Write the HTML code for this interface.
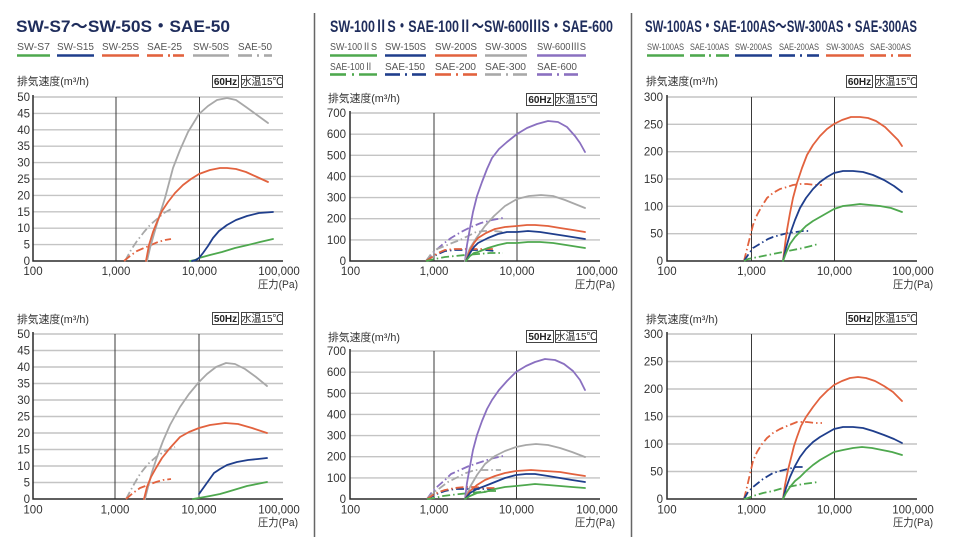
<!DOCTYPE html>
<html><head><meta charset="utf-8"><style>
html,body{margin:0;padding:0;background:#fff;width:964px;height:537px;overflow:hidden}
svg{display:block}
text{font-family:"Liberation Sans","Noto Sans CJK JP",sans-serif}
.t{font-size:17px;font-weight:bold;fill:#1f2d5c}
.lg{font-size:10px;fill:#555}
.lg3{font-size:9px;fill:#555}
.yl{font-size:11.5px;fill:#333;text-anchor:end}
.xl{font-size:11.5px;fill:#333;text-anchor:middle}
.un{font-size:11px;fill:#333}
.hz{font-size:10px;font-weight:bold;fill:#222;text-anchor:middle}
.wt{font-size:10px;fill:#222;text-anchor:middle}
.g{stroke:#c4c4c4;stroke-width:1.4;fill:none}
.v{stroke:#3a3a3a;stroke-width:1;fill:none}
.ax{stroke:#2a2a2a;stroke-width:1.5;fill:none}
polyline{fill:none;stroke-width:1.8;stroke-linejoin:round;stroke-linecap:round}
.dd{stroke-dasharray:8 3 1.5 3;stroke-linecap:butt}
.cg{stroke:#4ea84e}.cb{stroke:#1f3e8c}.co{stroke:#e2623e}.cy{stroke:#a8a8a8}.cp{stroke:#8a70c0}
.l{stroke-width:2.6;fill:none}
</style></head><body>
<svg width="964" height="537" viewBox="0 0 964 537" xmlns="http://www.w3.org/2000/svg">
<!-- dividers -->
<line x1="314.5" y1="13" x2="314.5" y2="537" stroke="#666" stroke-width="1.5"/>
<line x1="631.5" y1="13" x2="631.5" y2="537" stroke="#666" stroke-width="1.5"/>

<!-- titles -->
<text class="t" x="16" y="32" textLength="214" lengthAdjust="spacingAndGlyphs">SW-S7～SW-50S・SAE-50</text>
<text class="t" x="330" y="32" textLength="283" lengthAdjust="spacingAndGlyphs">SW-100ⅡS・SAE-100Ⅱ～SW-600ⅢS・SAE-600</text>
<text class="t" x="645" y="32" textLength="272" lengthAdjust="spacingAndGlyphs">SW-100AS・SAE-100AS～SW-300AS・SAE-300AS</text>

<!-- legend col1 -->
<text class="lg" x="17" y="50" textLength="33" lengthAdjust="spacingAndGlyphs">SW-S7</text>
<line class="l cg" x1="17" y1="55.5" x2="50" y2="55.5"/>
<text class="lg" x="57" y="50" textLength="37" lengthAdjust="spacingAndGlyphs">SW-S15</text>
<line class="l cb" x1="57" y1="55.5" x2="94" y2="55.5"/>
<text class="lg" x="102" y="50" textLength="37" lengthAdjust="spacingAndGlyphs">SW-25S</text>
<line class="l co" x1="102" y1="55.5" x2="139" y2="55.5"/>
<text class="lg" x="147" y="50" textLength="35" lengthAdjust="spacingAndGlyphs">SAE-25</text>
<line class="l co" x1="147" y1="55.5" x2="163" y2="55.5"/><line class="l co" x1="168" y1="55.5" x2="170" y2="55.5"/><line class="l co" x1="173" y1="55.5" x2="184" y2="55.5"/>
<text class="lg" x="193" y="50" textLength="36" lengthAdjust="spacingAndGlyphs">SW-50S</text>
<line class="l cy" x1="193" y1="55.5" x2="229" y2="55.5"/>
<text class="lg" x="238" y="50" textLength="34" lengthAdjust="spacingAndGlyphs">SAE-50</text>
<line class="l cy" x1="238" y1="55.5" x2="252" y2="55.5"/><line class="l cy" x1="257" y1="55.5" x2="259" y2="55.5"/><line class="l cy" x1="264" y1="55.5" x2="272" y2="55.5"/>

<!-- legend col2 -->
<text class="lg" x="330" y="50" textLength="47" lengthAdjust="spacingAndGlyphs">SW-100ⅡS</text>
<line class="l cg" x1="330" y1="55.5" x2="377" y2="55.5"/>
<text class="lg" x="385" y="50" textLength="41" lengthAdjust="spacingAndGlyphs">SW-150S</text>
<line class="l cb" x1="385" y1="55.5" x2="426" y2="55.5"/>
<text class="lg" x="435" y="50" textLength="42" lengthAdjust="spacingAndGlyphs">SW-200S</text>
<line class="l co" x1="435" y1="55.5" x2="477" y2="55.5"/>
<text class="lg" x="485" y="50" textLength="42" lengthAdjust="spacingAndGlyphs">SW-300S</text>
<line class="l cy" x1="485" y1="55.5" x2="527" y2="55.5"/>
<text class="lg" x="537" y="50" textLength="49" lengthAdjust="spacingAndGlyphs">SW-600ⅢS</text>
<line class="l cp" x1="537" y1="55.5" x2="586" y2="55.5"/>

<text class="lg" x="330" y="70" textLength="43" lengthAdjust="spacingAndGlyphs">SAE-100Ⅱ</text>
<line class="l cg" x1="330" y1="74.5" x2="346" y2="74.5"/><line class="l cg" x1="352" y1="74.5" x2="354" y2="74.5"/><line class="l cg" x1="359" y1="74.5" x2="377" y2="74.5"/>
<text class="lg" x="385" y="70" textLength="40" lengthAdjust="spacingAndGlyphs">SAE-150</text>
<line class="l cb" x1="385" y1="74.5" x2="400" y2="74.5"/><line class="l cb" x1="405" y1="74.5" x2="407" y2="74.5"/><line class="l cb" x1="412" y1="74.5" x2="426" y2="74.5"/>
<text class="lg" x="435" y="70" textLength="41" lengthAdjust="spacingAndGlyphs">SAE-200</text>
<line class="l co" x1="435" y1="74.5" x2="451" y2="74.5"/><line class="l co" x1="456" y1="74.5" x2="458" y2="74.5"/><line class="l co" x1="463" y1="74.5" x2="477" y2="74.5"/>
<text class="lg" x="485" y="70" textLength="41" lengthAdjust="spacingAndGlyphs">SAE-300</text>
<line class="l cy" x1="485" y1="74.5" x2="501" y2="74.5"/><line class="l cy" x1="506" y1="74.5" x2="508" y2="74.5"/><line class="l cy" x1="513" y1="74.5" x2="527" y2="74.5"/>
<text class="lg" x="537" y="70" textLength="40" lengthAdjust="spacingAndGlyphs">SAE-600</text>
<line class="l cp" x1="537" y1="74.5" x2="552" y2="74.5"/><line class="l cp" x1="557" y1="74.5" x2="559" y2="74.5"/><line class="l cp" x1="564" y1="74.5" x2="578" y2="74.5"/>

<!-- legend col3 -->
<text class="lg3" x="647" y="50" textLength="37" lengthAdjust="spacingAndGlyphs">SW-100AS</text>
<line class="l cg" x1="647" y1="55.5" x2="684" y2="55.5"/>
<text class="lg3" x="690" y="50" textLength="39" lengthAdjust="spacingAndGlyphs">SAE-100AS</text>
<line class="l cg" x1="690" y1="55.5" x2="705" y2="55.5"/><line class="l cg" x1="709" y1="55.5" x2="711" y2="55.5"/><line class="l cg" x1="716" y1="55.5" x2="729" y2="55.5"/>
<text class="lg3" x="735" y="50" textLength="37" lengthAdjust="spacingAndGlyphs">SW-200AS</text>
<line class="l cb" x1="735" y1="55.5" x2="772" y2="55.5"/>
<text class="lg3" x="779" y="50" textLength="40" lengthAdjust="spacingAndGlyphs">SAE-200AS</text>
<line class="l cb" x1="779" y1="55.5" x2="795" y2="55.5"/><line class="l cb" x1="800" y1="55.5" x2="802" y2="55.5"/><line class="l cb" x1="807" y1="55.5" x2="819" y2="55.5"/>
<text class="lg3" x="826" y="50" textLength="38" lengthAdjust="spacingAndGlyphs">SW-300AS</text>
<line class="l co" x1="826" y1="55.5" x2="864" y2="55.5"/>
<text class="lg3" x="870" y="50" textLength="41" lengthAdjust="spacingAndGlyphs">SAE-300AS</text>
<line class="l co" x1="870" y1="55.5" x2="886" y2="55.5"/><line class="l co" x1="891" y1="55.5" x2="893" y2="55.5"/><line class="l co" x1="898" y1="55.5" x2="911" y2="55.5"/>

<!-- ================= COL1 TOP ================= -->
<text class="un" x="17" y="85" textLength="72" lengthAdjust="spacingAndGlyphs">排気速度(m³/h)</text>
<rect x="212.5" y="75.5" width="26" height="12" fill="#fff" stroke="#444"/><text class="hz" x="225.5" y="85">60Hz</text>
<rect x="241.5" y="75.5" width="41" height="12" fill="#fff" stroke="#444"/><text class="wt" x="262" y="85">水温15℃</text>
<g>
<path class="g" d="M33 97H283M33 113.4H283M33 129.8H283M33 146.2H283M33 162.6H283M33 179H283M33 195.4H283M33 211.8H283M33 228.2H283M33 244.6H283"/>
<path class="v" d="M116 97V261" stroke-width="1.8" stroke="#555"/><path class="v" d="M199.5 97V261"/>
<path class="ax" d="M33 95V261H283"/>
<text class="yl" x="30" y="101">50</text><text class="yl" x="30" y="117.4">45</text><text class="yl" x="30" y="133.8">40</text><text class="yl" x="30" y="150.2">35</text><text class="yl" x="30" y="166.6">30</text><text class="yl" x="30" y="183">25</text><text class="yl" x="30" y="199.4">20</text><text class="yl" x="30" y="215.8">15</text><text class="yl" x="30" y="232.2">10</text><text class="yl" x="30" y="248.6">5</text><text class="yl" x="30" y="265">0</text>
<text class="xl" x="33" y="275">100</text><text class="xl" x="116" y="275">1,000</text><text class="xl" x="199.5" y="275">10,000</text><text class="xl" x="279" y="275">100,000</text>
<text class="un" x="258" y="288" textLength="40" lengthAdjust="spacingAndGlyphs">圧力(Pa)</text>
<polyline class="cy dd" points="125,261 131,250 137,241 144,232 150,225 157,219 164,213 173,208"/>
<polyline class="co dd" points="124,261 130,256 137,251 144,248 151,245 158,242 165,240 171,239"/>
<polyline class="cy" points="147,261 150,248 154,234 159,217 165,198 173,168 180,150 188,132 199,114 208,106 217,100 227,98 236,100 246,107 257,115 268,123"/>
<polyline class="co" points="146,261 149,245 153,232 157,222 162,211 168,202 175,193 183,185 191,179 199,174 210,170 220,168 227,168 236,169 246,172 257,177 268,182"/>
<polyline class="cg" points="190,261 195,260 199,258 210,255 222,252 235,248 248,245 260,242 273,239"/>
<polyline class="cb" points="192,261 196,260 199,258 203,253 208,246 213,238 219,231 227,225 236,220 247,216 259,213 273,212"/>
</g>

<!-- ================= COL1 BOTTOM ================= -->
<text class="un" x="17" y="323" textLength="72" lengthAdjust="spacingAndGlyphs">排気速度(m³/h)</text>
<rect x="212.5" y="312.5" width="26" height="12" fill="#fff" stroke="#444"/><text class="hz" x="225.5" y="322">50Hz</text>
<rect x="241.5" y="312.5" width="41" height="12" fill="#fff" stroke="#444"/><text class="wt" x="262" y="322">水温15℃</text>
<g>
<path class="g" d="M33 334H283M33 350.5H283M33 367H283M33 383.5H283M33 400H283M33 416.5H283M33 433H283M33 449.5H283M33 466H283M33 482.5H283"/>
<path class="v" d="M115 334V499"/><path class="v" d="M199 334V499"/>
<path class="ax" d="M33 332V499H283"/>
<text class="yl" x="30" y="338">50</text><text class="yl" x="30" y="354.5">45</text><text class="yl" x="30" y="371">40</text><text class="yl" x="30" y="387.5">35</text><text class="yl" x="30" y="404">30</text><text class="yl" x="30" y="420.5">25</text><text class="yl" x="30" y="437">20</text><text class="yl" x="30" y="453.5">15</text><text class="yl" x="30" y="470">10</text><text class="yl" x="30" y="486.5">5</text><text class="yl" x="30" y="503">0</text>
<text class="xl" x="33" y="513.5">100</text><text class="xl" x="115" y="513.5">1,000</text><text class="xl" x="199" y="513.5">10,000</text><text class="xl" x="279" y="513.5">100,000</text>
<text class="un" x="258" y="526" textLength="40" lengthAdjust="spacingAndGlyphs">圧力(Pa)</text>
<polyline class="cy dd" points="126,499 133,486 140,474 148,464 156,457 165,451 175,447"/>
<polyline class="co dd" points="126,499 133,493 140,488 148,485 156,482 163,480 171,479"/>
<polyline class="cy" points="145,499 148,487 152,472 157,457 163,441 170,425 180,407 189,394 199,382 207,374 216,367 226,363 235,364 245,369 256,377 267,386"/>
<polyline class="co" points="144,499 147,487 151,477 156,468 162,458 170,448 180,437 189,432 199,428 210,425 225,423 238,424 252,428 267,433"/>
<polyline class="cg" points="193,499 199,498 210,496 220,494 227,492 237,489 247,486 257,484 267,482"/>
<polyline class="cb" points="199,494 204,487 209,480 214,473 220,469 227,465 237,462 248,460 258,459 267,458"/>
</g>

<!-- ================= COL2 TOP ================= -->
<text class="un" x="328" y="102" textLength="72" lengthAdjust="spacingAndGlyphs">排気速度(m³/h)</text>
<rect x="526.5" y="93.5" width="27" height="12" fill="#fff" stroke="#444"/><text class="hz" x="540" y="103">60Hz</text>
<rect x="555.5" y="93.5" width="41" height="12" fill="#fff" stroke="#444"/><text class="wt" x="576" y="103">水温15℃</text>
<g>
<path class="g" d="M350 113H600M350 134.2H600M350 155.3H600M350 176.4H600M350 197.6H600M350 218.7H600M350 239.9H600"/>
<path class="v" d="M434 113V261"/><path class="v" d="M517 113V261" stroke="#666" stroke-width="1.5"/>
<path class="ax" d="M350 111V261H600"/>
<text class="yl" x="346" y="117">700</text><text class="yl" x="346" y="138.2">600</text><text class="yl" x="346" y="159.3">500</text><text class="yl" x="346" y="180.4">400</text><text class="yl" x="346" y="201.6">300</text><text class="yl" x="346" y="222.7">200</text><text class="yl" x="346" y="243.9">100</text><text class="yl" x="346" y="265">0</text>
<text class="xl" x="350.5" y="275">100</text><text class="xl" x="434" y="275">1,000</text><text class="xl" x="517" y="275">10,000</text><text class="xl" x="597" y="275">100,000</text>
<text class="un" x="575" y="288" textLength="40" lengthAdjust="spacingAndGlyphs">圧力(Pa)</text>
<polyline class="cp dd" points="426,261 430,256 435,251 443,244 451,238 461,232 471,227 481,223 492,220 503,218"/>
<polyline class="cy dd" points="426,261 431,254 437,249 445,246 452,243 460,240 468,236 476,232 484,231 494,231 503,232"/>
<polyline class="cb dd" points="426,261 432,257 438,254 445,251 455,250 465,250 475,250 485,250 495,251"/>
<polyline class="co dd" points="426,261 432,257 438,253 445,250 455,249 465,249 475,249 485,249 495,249"/>
<polyline class="cg dd" points="426,261 435,259 445,257 455,256 465,255 478,254 490,253 503,253"/>
<polyline class="cp" points="465,261 467,245 470,228 473,212 477,196 482,182 487,169 492,158 499,149 507,142 517,134 527,128 537,124 548,121 558,122 567,127 575,136 580,143 585,152"/>
<polyline class="cy" points="465,261 470,248 477,237 485,226 494,216 505,206 517,199 529,196 541,195 553,196 565,200 575,204 585,208"/>
<polyline class="co" points="466,261 470,250 474,243 478,238 486,233 495,229 505,227 517,226 527,225 535,225 548,226 560,228 573,230 585,232"/>
<polyline class="cb" points="466,261 470,253 474,247 478,243 488,238 498,234 507,232 517,232 528,231 540,232 553,234 566,236 585,239"/>
<polyline class="cg" points="466,261 470,256 474,253 478,252 488,248 498,245 507,243 517,243 528,242 540,242 553,243 566,245 585,248"/>
</g>

<!-- ================= COL2 BOTTOM ================= -->
<text class="un" x="328" y="341" textLength="72" lengthAdjust="spacingAndGlyphs">排気速度(m³/h)</text>
<rect x="526.5" y="330.5" width="27" height="12" fill="#fff" stroke="#444"/><text class="hz" x="540" y="340">50Hz</text>
<rect x="555.5" y="330.5" width="41" height="12" fill="#fff" stroke="#444"/><text class="wt" x="576" y="340">水温15℃</text>
<g>
<path class="g" d="M350 351H600M350 372.2H600M350 393.3H600M350 414.4H600M350 435.6H600M350 456.7H600M350 477.9H600"/>
<path class="v" d="M434 351V499" stroke="#666" stroke-width="1.5"/><path class="v" d="M516.5 351V499"/>
<path class="ax" d="M350 349V499H600"/>
<text class="yl" x="346" y="355">700</text><text class="yl" x="346" y="376.2">600</text><text class="yl" x="346" y="397.3">500</text><text class="yl" x="346" y="418.4">400</text><text class="yl" x="346" y="439.6">300</text><text class="yl" x="346" y="460.7">200</text><text class="yl" x="346" y="481.9">100</text><text class="yl" x="346" y="503">0</text>
<text class="xl" x="350.5" y="513.5">100</text><text class="xl" x="434" y="513.5">1,000</text><text class="xl" x="516.5" y="513.5">10,000</text><text class="xl" x="597" y="513.5">100,000</text>
<text class="un" x="575" y="526" textLength="40" lengthAdjust="spacingAndGlyphs">圧力(Pa)</text>
<polyline class="cp dd" points="427,499 432,492 438,486 445,480 451,474 460,470 469,466 478,463 490,459 503,456"/>
<polyline class="cy dd" points="427,499 433,493 440,488 448,482 458,477 466,473 475,470 488,470 501,470"/>
<polyline class="cb dd" points="427,499 433,496 439,493 445,491 455,489 465,489 475,489 485,489 493,489"/>
<polyline class="co dd" points="427,499 433,495 439,492 445,490 455,488 465,487 475,487 485,488 495,488"/>
<polyline class="cg dd" points="427,499 435,498 443,496 451,495 460,494 470,493 480,492 490,491 496,491"/>
<polyline class="cp" points="465,499 467,483 470,466 473,450 477,435 482,421 487,409 492,400 499,390 507,381 516,372 526,366 535,362 545,359 555,360 564,364 573,371 580,380 585,390"/>
<polyline class="cy" points="465,499 470,487 477,475 485,464 495,456 505,451 516,447 526,445 536,444 548,445 560,448 572,452 585,457"/>
<polyline class="co" points="465,499 470,491 477,485 485,480 495,476 505,473 516,471 531,470 545,471 560,472 572,474 585,476"/>
<polyline class="cb" points="465,499 470,493 477,489 485,486 495,482 505,478 516,475 526,474 535,474 548,476 560,478 572,480 585,482"/>
<polyline class="cg" points="465,499 470,496 477,493 485,492 495,489 505,487 516,486 526,485 535,484 548,485 560,486 572,487 585,488"/>
</g>

<!-- ================= COL3 TOP ================= -->
<text class="un" x="646" y="85" textLength="72" lengthAdjust="spacingAndGlyphs">排気速度(m³/h)</text>
<rect x="846.5" y="75.5" width="26" height="12" fill="#fff" stroke="#444"/><text class="hz" x="859.5" y="85">60Hz</text>
<rect x="875.5" y="75.5" width="41" height="12" fill="#fff" stroke="#444"/><text class="wt" x="896" y="85">水温15℃</text>
<g>
<path class="g" d="M667 97H917M667 124.3H917M667 151.7H917M667 179H917M667 206.3H917M667 233.7H917"/>
<path class="v" d="M751.5 97V261"/><path class="v" d="M834.5 97V261"/>
<path class="ax" d="M667 95V261H917"/>
<text class="yl" x="663" y="101">300</text><text class="yl" x="663" y="128.3">250</text><text class="yl" x="663" y="155.7">200</text><text class="yl" x="663" y="183">150</text><text class="yl" x="663" y="210.3">100</text><text class="yl" x="663" y="237.7">50</text><text class="yl" x="663" y="265">0</text>
<text class="xl" x="667" y="275">100</text><text class="xl" x="751.5" y="275">1,000</text><text class="xl" x="834.5" y="275">10,000</text><text class="xl" x="913" y="275">100,000</text>
<text class="un" x="893" y="288" textLength="40" lengthAdjust="spacingAndGlyphs">圧力(Pa)</text>
<polyline class="co dd" points="744,261 747,249 750,237 753,225 757,215 762,206 767,198 773,193 780,189 787,187 793,185 800,184 807,184 815,185 822,185"/>
<polyline class="cb dd" points="744,261 748,255 753,248 758,245 763,242 768,239 773,237 780,235 788,233 796,232 803,231 810,231"/>
<polyline class="cg dd" points="744,261 748,259 753,258 763,256 773,254 783,252 793,250 803,248 811,246 818,244"/>
<polyline class="co" points="783,261 785,245 787,230 790,213 793,198 797,183 802,168 807,155 813,145 820,136 827,129 834,124 842,120 851,117 860,117 868,118 876,121 885,127 893,135 898,140 902,146"/>
<polyline class="cb" points="783,261 786,248 790,234 795,220 800,208 806,198 813,189 820,182 827,177 834,173 843,171 853,171 863,172 873,175 884,180 894,186 902,192"/>
<polyline class="cg" points="783,261 786,253 790,244 795,237 800,232 806,226 813,221 820,217 827,213 834,209 843,206 852,205 860,204 870,205 880,206 891,208 902,212"/>
</g>

<!-- ================= COL3 BOTTOM ================= -->
<text class="un" x="646" y="323" textLength="72" lengthAdjust="spacingAndGlyphs">排気速度(m³/h)</text>
<rect x="846.5" y="312.5" width="26" height="12" fill="#fff" stroke="#444"/><text class="hz" x="859.5" y="322">50Hz</text>
<rect x="875.5" y="312.5" width="41" height="12" fill="#fff" stroke="#444"/><text class="wt" x="896" y="322">水温15℃</text>
<g>
<path class="g" d="M667 334H917M667 361.5H917M667 389H917M667 416.5H917M667 444H917M667 471.5H917"/>
<path class="v" d="M751.5 334V499"/><path class="v" d="M834.5 334V499"/>
<path class="ax" d="M667 332V499H917"/>
<text class="yl" x="663" y="338">300</text><text class="yl" x="663" y="365.5">250</text><text class="yl" x="663" y="393">200</text><text class="yl" x="663" y="420.5">150</text><text class="yl" x="663" y="448">100</text><text class="yl" x="663" y="475.5">50</text><text class="yl" x="663" y="503">0</text>
<text class="xl" x="667" y="513.5">100</text><text class="xl" x="751.5" y="513.5">1,000</text><text class="xl" x="834.5" y="513.5">10,000</text><text class="xl" x="913" y="513.5">100,000</text>
<text class="un" x="893" y="526" textLength="40" lengthAdjust="spacingAndGlyphs">圧力(Pa)</text>
<polyline class="co dd" points="744,499 747,487 750,474 753,461 757,452 762,444 767,438 773,433 780,429 787,426 797,422 807,422 815,423 822,423"/>
<polyline class="cb dd" points="744,499 748,492 753,487 758,483 763,479 768,476 773,473 780,471 788,469 796,467 803,467"/>
<polyline class="cg dd" points="744,499 748,498 753,496 763,493 773,491 783,488 793,486 803,484 811,483 818,482"/>
<polyline class="co" points="783,499 785,485 788,470 791,458 794,446 797,437 801,426 806,417 813,407 820,398 827,391 834,385 842,381 850,378 858,377 866,378 875,381 884,386 893,392 902,401"/>
<polyline class="cb" points="783,499 786,488 790,477 795,466 800,457 806,449 813,442 820,437 827,433 834,429 843,427 853,427 863,428 873,431 884,435 894,439 902,443"/>
<polyline class="cg" points="783,499 786,493 790,487 795,481 800,477 806,471 813,465 820,460 827,456 834,452 843,450 853,448 862,447 872,448 882,450 892,452 902,455"/>
</g>
</svg>
</body></html>
